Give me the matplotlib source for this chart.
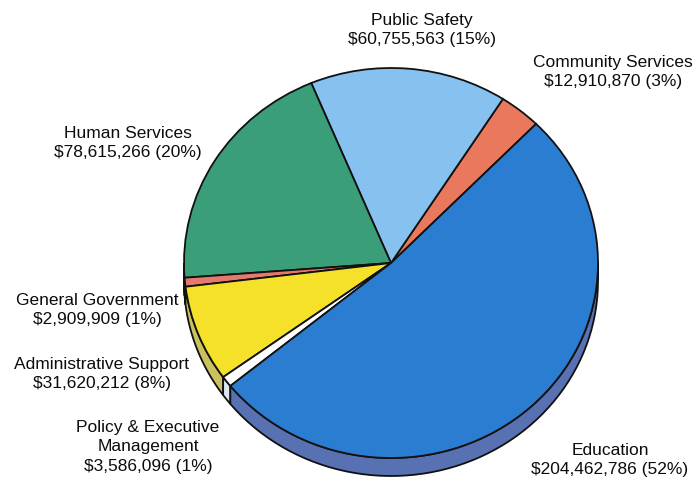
import numpy as np
import matplotlib
matplotlib.use("Agg")
import matplotlib.pyplot as plt
from matplotlib.patches import Wedge, Polygon
from matplotlib.transforms import Affine2D

# budget by program area, in dollars (counter-clockwise from the Education edge)
areas = ["Community Services", "Public Safety", "Human Services",
         "General Government", "Administrative Support",
         "Policy & Executive\nManagement", "Education"]
amounts = [12910870, 60755563, 78615266, 2909909, 31620212, 3586096, 204462786]
pcts = [3, 15, 20, 1, 8, 1, 52]

top_colors = ["#e9785c", "#86c1ef", "#3a9f79", "#e47a6c", "#f6e12a", "#ffffff", "#2b7dd1"]
side_colors = ["#b85a48", "#6f9cc0", "#2e7a5c", "#b05a50", "#c9c25e", "#dde6f2", "#5771b3"]

# label anchor (pixel coords, text centre) for each area
label_pos = [(613, 72), (422, 30), (128, 143), (97, 310), (102, 374), (148, 447), (610, 460)]

W, H = 700, 483
cx, cy = 391, H - 263
rx, ry = 207, 195
depth = 18
start = 45.5

fig = plt.figure(figsize=(7, 4.83), dpi=100)
ax = fig.add_axes([0, 0, 1, 1])
ax.set_xlim(0, W)
ax.set_ylim(0, H)
ax.axis("off")

frac = np.array(amounts, dtype=float) / sum(amounts)
edges = start + 360 * np.concatenate([[0], np.cumsum(frac)])

to_px = Affine2D().scale(rx, ry).translate(cx, cy) + ax.transData

# side of the disc, visible only on the front half (180..360 deg)
for i in range(len(amounts)):
    t1, t2 = edges[i], edges[i + 1]
    for off in (0, 360):
        a = max(t1, 180 + off)
        b = min(t2, 360 + off)
        if b <= a:
            continue
        th = np.radians(np.linspace(a, b, 60))
        xs = np.cos(th)
        ys = np.sin(th)
        pts = np.column_stack([xs, ys])
        low = np.column_stack([xs[::-1], ys[::-1] - depth / ry])
        side = Polygon(np.vstack([pts, low]), closed=True, facecolor=side_colors[i],
                       edgecolor="#111111", linewidth=1.3, transform=to_px, zorder=1)
        ax.add_patch(side)

# top face
for i in range(len(amounts)):
    w = Wedge((0, 0), 1, edges[i], edges[i + 1], facecolor=top_colors[i],
              edgecolor="#111111", linewidth=1.3, transform=to_px, zorder=2)
    ax.add_patch(w)

for name, amt, p, (lx, ly) in zip(areas, amounts, pcts, label_pos):
    ax.text(lx, H - ly, "%s\n$%s (%d%%)" % (name, format(amt, ","), p),
            ha="center", va="center", fontsize=12.5, family="Liberation Sans",
            color="#0c0c0c", linespacing=1.35, zorder=3)

fig.savefig("out.png", dpi=100)
